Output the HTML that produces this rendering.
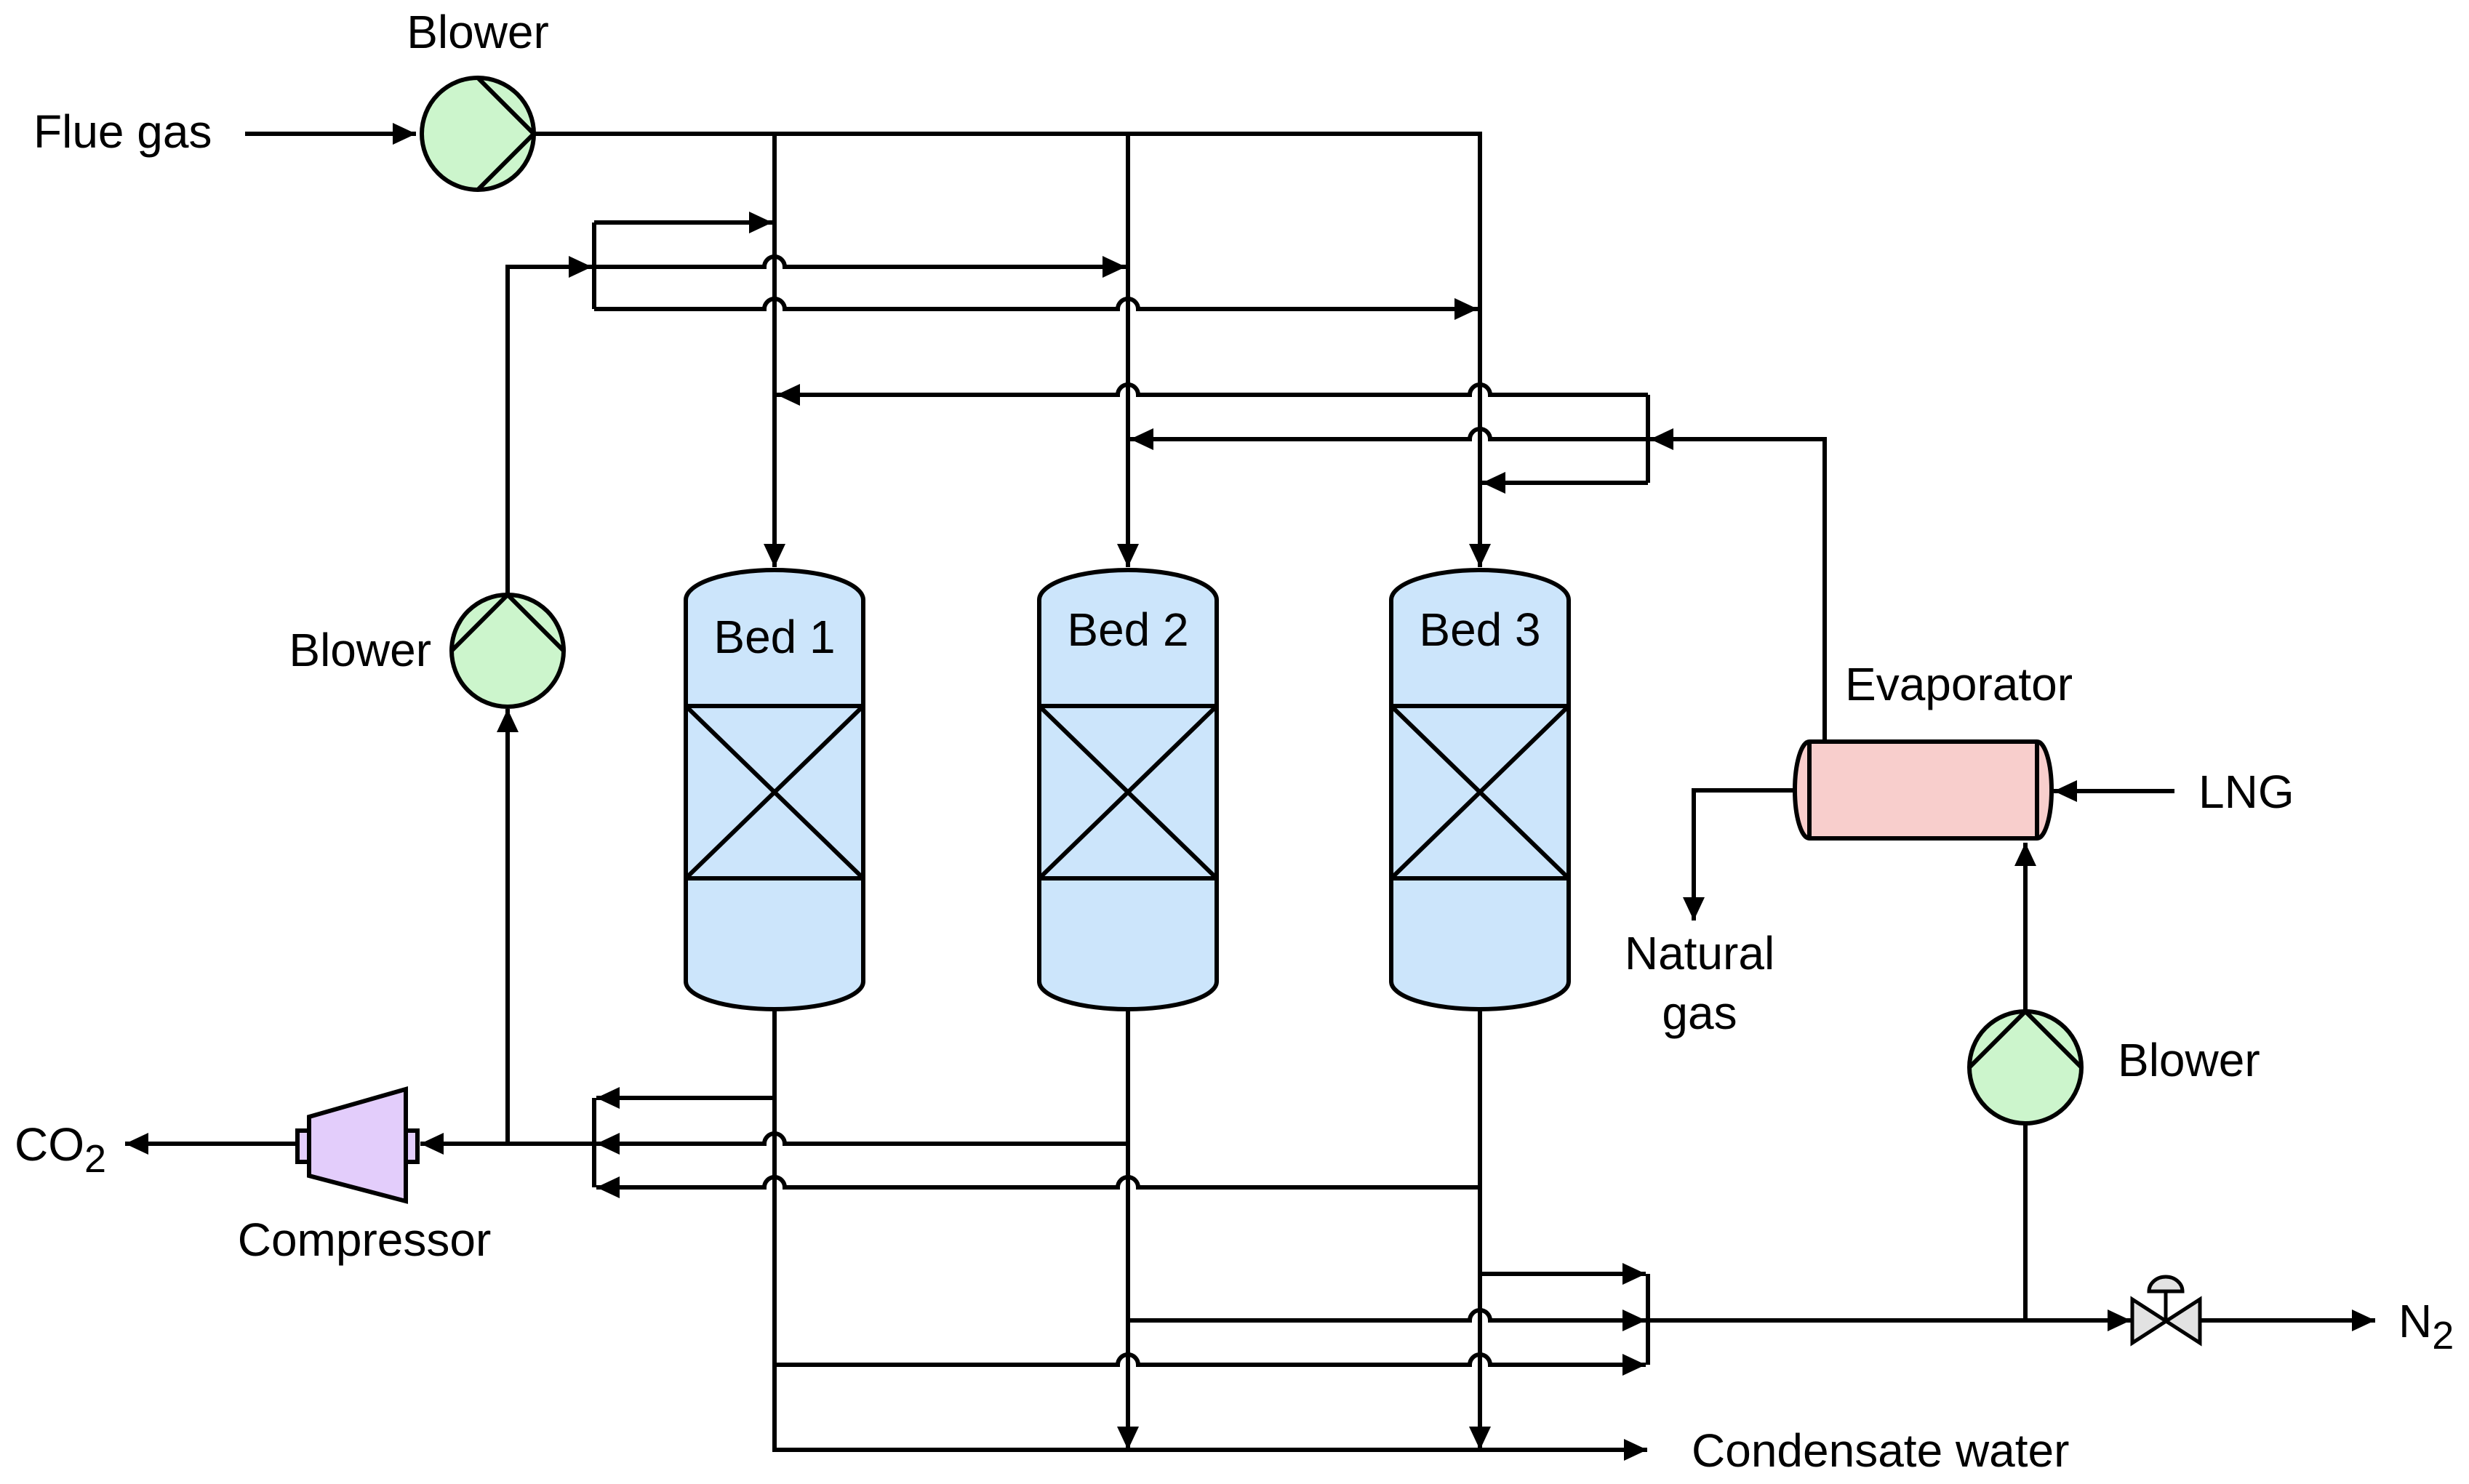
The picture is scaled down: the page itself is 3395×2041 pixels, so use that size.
<!DOCTYPE html>
<html><head><meta charset="utf-8"><style>
html,body{margin:0;padding:0;background:#fff;}
svg{display:block;}
text{font-family:"Liberation Sans",Arial,sans-serif;font-size:64px;fill:#000;}
</style></head><body>
<svg width="3395" height="2041" viewBox="0 0 3395 2041" xmlns="http://www.w3.org/2000/svg">
<defs>
<marker id="a" markerUnits="userSpaceOnUse" markerWidth="34" markerHeight="30" refX="32" refY="15" orient="auto"><path d="M0,0 L32,15 L0,30 z" fill="#000"/></marker>
</defs>
<g fill="none" stroke="#000" stroke-width="6">
<path d="M337,184 H572" marker-end="url(#a)"/>
<path d="M735,184 H2035 V780" marker-end="url(#a)"/>
<path d="M1065,184 V780" marker-end="url(#a)"/>
<path d="M1551,184 V780" marker-end="url(#a)"/>
<path d="M817,306 H1062" marker-end="url(#a)"/>
<path d="M817,306 V425"/>
<path d="M698,818 V367 H814" marker-end="url(#a)"/>
<path d="M817,367 H1051 a14,14 0 0 1 28,0 H1548" marker-end="url(#a)"/>
<path d="M817,425 H1051 a14,14 0 0 1 28,0 H1537 a14,14 0 0 1 28,0 H2032" marker-end="url(#a)"/>
<path d="M2266,543 V664"/>
<path d="M2266,543 H2049 a14,14 0 0 0 -28,0 H1565 a14,14 0 0 0 -28,0 H1068" marker-end="url(#a)"/>
<path d="M2509,1020 V604 H2269" marker-end="url(#a)"/>
<path d="M2266,604 H2049 a14,14 0 0 0 -28,0 H1554" marker-end="url(#a)"/>
<path d="M2266,664 H2038" marker-end="url(#a)"/>
<path d="M2468,1087 H2329 V1266" marker-end="url(#a)"/>
<path d="M2990,1088 H2824" marker-end="url(#a)"/>
<path d="M2785,1391 V1159" marker-end="url(#a)"/>
<path d="M2785,1545 V1816"/>
<path d="M698,1573 V975" marker-end="url(#a)"/>
<path d="M817,1573 H578" marker-end="url(#a)"/>
<path d="M817,1510 V1633"/>
<path d="M1065,1510 H820" marker-end="url(#a)"/>
<path d="M1551,1573 H1079 a14,14 0 0 0 -28,0 H820" marker-end="url(#a)"/>
<path d="M2035,1633 H1565 a14,14 0 0 0 -28,0 H1079 a14,14 0 0 0 -28,0 H820" marker-end="url(#a)"/>
<path d="M409,1573 H172" marker-end="url(#a)"/>
<path d="M1065,1387 V1994 H2265" marker-end="url(#a)"/>
<path d="M1551,1387 V1994" marker-end="url(#a)"/>
<path d="M2035,1387 V1994" marker-end="url(#a)"/>
<path d="M2266,1752 V1877"/>
<path d="M2035,1752 H2263" marker-end="url(#a)"/>
<path d="M1551,1816 H2021 a14,14 0 0 1 28,0 H2263" marker-end="url(#a)"/>
<path d="M1065,1877 H1537 a14,14 0 0 1 28,0 H2021 a14,14 0 0 1 28,0 H2263" marker-end="url(#a)"/>
<path d="M2266,1816 H2930" marker-end="url(#a)"/>
<path d="M3025,1816 H3266" marker-end="url(#a)"/>
</g>
<g stroke="#000" stroke-width="5">
<path d="M2932,1787 L3025,1847 V1787 L2932,1847 Z" fill="#e2e2e2"/>
<path d="M2978,1816 V1776" fill="none"/>
<path d="M2955,1776 A23,20 0 0 1 3001,1776 Z" fill="#e2e2e2"/>
</g>
<g stroke="#000" stroke-width="6" fill="#ccf5cc">
<circle cx="657" cy="184" r="77"/>
<path d="M657,107 L734,184 L657,261" fill="none"/>
<circle cx="698" cy="895" r="77"/>
<path d="M621,895 L698,818 L775,895" fill="none"/>
<circle cx="2785" cy="1468" r="77"/>
<path d="M2708,1468 L2785,1391 L2862,1468" fill="none"/>
</g>
<g stroke="#000" stroke-width="6" fill="#e3cdfb">
<rect x="409" y="1555" width="16" height="43"/>
<rect x="558" y="1555" width="16" height="43"/>
<path d="M425,1536 L558,1498 L558,1652 L425,1617 Z"/>
</g>
<g stroke="#000" stroke-width="6" fill="#f8cecc">
<path d="M2488,1020 H2801 A20,66.5 0 0 1 2801,1153 H2488 A20,66.5 0 0 1 2488,1020 Z"/>
<path d="M2488,1020 V1153 M2801,1020 V1153" fill="none"/>
</g>
<g stroke="#000" stroke-width="6" fill="#cce5fb">
<path d="M943,825 A122,41 0 0 1 1187,825 V1350 A122,38 0 0 1 943,1350 Z"/>
<path d="M943,971 H1187 V1208 H943 Z M943,971 L1187,1208 M1187,971 L943,1208" fill="none"/>
<path d="M1429,825 A122,41 0 0 1 1673,825 V1350 A122,38 0 0 1 1429,1350 Z"/>
<path d="M1429,971 H1673 V1208 H1429 Z M1429,971 L1673,1208 M1673,971 L1429,1208" fill="none"/>
<path d="M1913,825 A122,41 0 0 1 2157,825 V1350 A122,38 0 0 1 1913,1350 Z"/>
<path d="M1913,971 H2157 V1208 H1913 Z M1913,971 L2157,1208 M2157,971 L1913,1208" fill="none"/>
</g>
<text x="1065" y="898" text-anchor="middle">Bed 1</text>
<text x="1551" y="888" text-anchor="middle">Bed 2</text>
<text x="2035" y="888" text-anchor="middle">Bed 3</text>
<text x="657" y="66" text-anchor="middle">Blower</text>
<text x="46" y="203">Flue gas</text>
<text x="593" y="916" text-anchor="end">Blower</text>
<text x="501" y="1727" text-anchor="middle">Compressor</text>
<text x="2537" y="963">Evaporator</text>
<text x="3023" y="1111">LNG</text>
<text x="2337" y="1333" text-anchor="middle">Natural</text>
<text x="2337" y="1415" text-anchor="middle">gas</text>
<text x="2912" y="1480">Blower</text>
<text x="2326" y="2017">Condensate water</text>
<text x="3298" y="1839">N<tspan font-size="54" dy="16">2</tspan></text>
<text x="20" y="1596">CO<tspan font-size="54" dy="16">2</tspan></text>
</svg>
</body></html>
